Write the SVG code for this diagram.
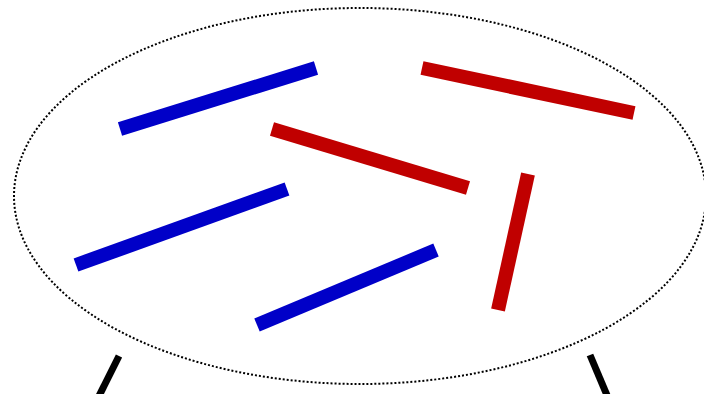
<svg xmlns="http://www.w3.org/2000/svg" width="704" height="394" viewBox="0 0 704 394">
<style>
.blue{stroke:#0000c8;stroke-width:14;fill:none}
.red{stroke:#c00000;stroke-width:14;fill:none}
.leg{stroke:#000;stroke-width:7;fill:none}
.boundary{fill:none;stroke:#000;stroke-width:2;stroke-dasharray:2 2}
</style>
<rect width="704" height="394" fill="#fff"/>
<g id="legs">
<line class="leg" x1="119" y1="356" x2="97" y2="400"/>
<line class="leg" x1="590" y1="355" x2="609" y2="400"/>
</g>
<g id="region">
<ellipse class="boundary" cx="360" cy="196" rx="346" ry="188"/>
</g>
<g id="rods">
<line class="blue" x1="120" y1="129" x2="316" y2="68"/>
<line class="blue" x1="76" y1="265" x2="287" y2="189"/>
<line class="blue" x1="257" y1="325" x2="436" y2="250"/>
<line class="red" x1="422" y1="68" x2="634" y2="113"/>
<line class="red" x1="272" y1="129" x2="468" y2="188"/>
<line class="red" x1="528" y1="174" x2="498" y2="310"/>
</g>
</svg>
